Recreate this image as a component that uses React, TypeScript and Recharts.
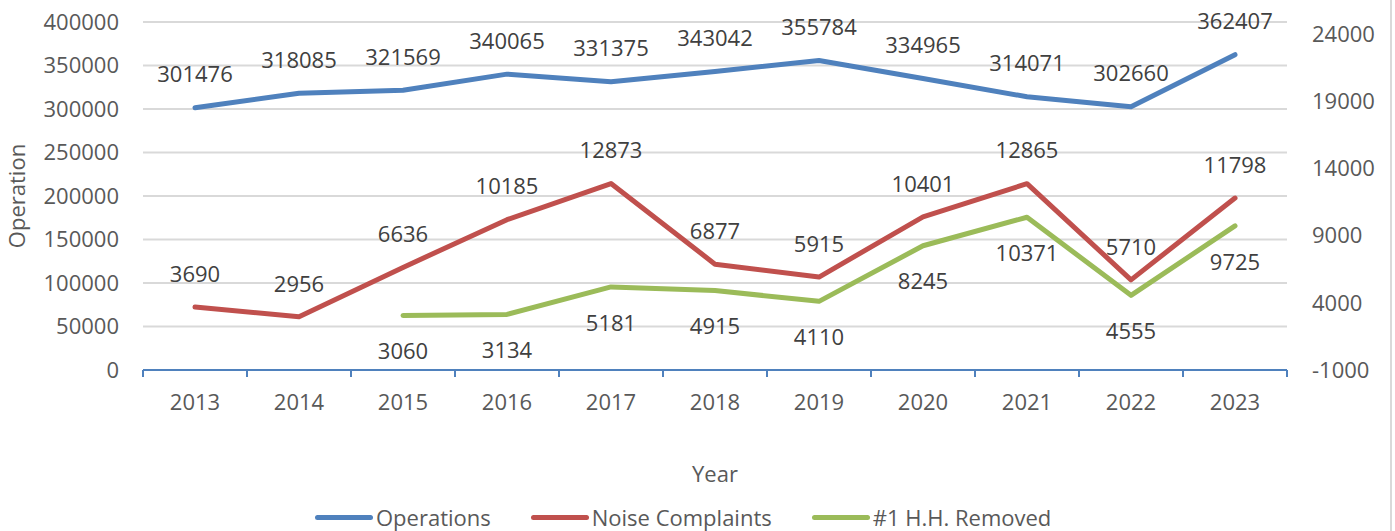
import React from 'react';
import { LineChart, Line, XAxis, YAxis, CartesianGrid, LabelList } from 'recharts';

const years = ['2013', '2014', '2015', '2016', '2017', '2018', '2019', '2020', '2021', '2022', '2023'];
const operations = [301476, 318085, 321569, 340065, 331375, 343042, 355784, 334965, 314071, 302660, 362407];
const noiseComplaints = [3690, 2956, 6636, 10185, 12873, 6877, 5915, 10401, 12865, 5710, 11798];
const hhRemoved: (number | null)[] = [null, null, 3060, 3134, 5181, 4915, 4110, 8245, 10371, 4555, 9725];

const leftTicks = [0, 50000, 100000, 150000, 200000, 250000, 300000, 350000, 400000];
const rightTicks = [-1000, 4000, 9000, 14000, 19000, 24000];

const BLUE = '#4F81BD';
const RED = '#C0504D';
const GREEN = '#9BBB59';
const TICK_COLOR = '#595959';
const LABEL_COLOR = '#404040';
const FONT = '"Open Sans", sans-serif';
const HALF_BAND = 52;

const chartData = years.map((year, i) => ({
    year,
    operations: operations[i],
    noise: noiseComplaints[i],
    hh: hhRemoved[i],
}));

const legendItems = [
    { name: 'Operations', color: BLUE },
    { name: 'Noise Complaints', color: RED },
    { name: '#1 H.H. Removed', color: GREEN },
];

const YearTick = (props: any) => {
    const { x, y, payload, index } = props;
    const last = index === years.length - 1;
    return (
        <g>
            <line x1={x - HALF_BAND} x2={x - HALF_BAND} y1={y} y2={y + 7} stroke={BLUE} strokeWidth={2} />
            {last && <line x1={x + HALF_BAND} x2={x + HALF_BAND} y1={y} y2={y + 7} stroke={BLUE} strokeWidth={2} />}
            <text x={x} y={y + 32} dy="0.35em" textAnchor="middle" fill={TICK_COLOR} fontSize={22} fontFamily={FONT}>
                {payload.value}
            </text>
        </g>
    );
};

const makeLabel = (offset: number) => (props: any) => {
    const { x, y, value } = props;
    if (value === null || value === undefined) return null;
    return (
        <text x={x} y={y + offset} dy="0.35em" textAnchor="middle" fill={LABEL_COLOR} fontSize={22} fontFamily={FONT}>
            {value}
        </text>
    );
};

const OperationLabel = (props: any) => {
    const vb = props.viewBox || {};
    const cx = (vb.x || 0) + 17;
    const cy = (vb.y || 0) + (vb.height || 0) / 2;
    return (
        <text x={cx} y={cy} dy="0.35em" textAnchor="middle" fill={TICK_COLOR} fontSize={22} fontFamily={FONT}
            transform={`rotate(-90, ${cx}, ${cy})`}>
            Operation
        </text>
    );
};

const App: React.FC = () => {
    return (
        <div style={{ position: 'absolute', left: 0, top: 0, width: 1395, height: 531, background: '#ffffff', fontFamily: FONT }}>
            <LineChart width={1395} height={531} data={chartData} margin={{ top: 22, right: 0, left: 0, bottom: 41 }}>
                <CartesianGrid vertical={false} stroke="#d9d9d9" strokeWidth={2} yAxisId="left" />
                <XAxis
                    dataKey="year"
                    height={120}
                    padding={{ left: HALF_BAND, right: HALF_BAND }}
                    tickSize={0}
                    tickMargin={0}
                    tickLine={false}
                    axisLine={{ stroke: BLUE, strokeWidth: 2 }}
                    tick={<YearTick />}
                    interval={0}
                    label={{ value: 'Year', position: 'insideBottom', offset: 8, fill: TICK_COLOR, fontSize: 22, fontFamily: FONT }}
                />
                <YAxis
                    yAxisId="left"
                    width={143}
                    domain={[0, 400000]}
                    ticks={leftTicks}
                    tickSize={0}
                    tickMargin={24}
                    tickLine={false}
                    axisLine={false}
                    interval={0}
                    tick={{ fill: TICK_COLOR, fontSize: 22, fontFamily: FONT }}
                    label={<OperationLabel />}
                />
                <YAxis
                    yAxisId="right"
                    orientation="right"
                    width={108}
                    domain={[-1000, 24900]}
                    ticks={rightTicks}
                    tickSize={0}
                    tickMargin={25}
                    tickLine={false}
                    axisLine={false}
                    interval={0}
                    tick={{ fill: TICK_COLOR, fontSize: 22, fontFamily: FONT, textAnchor: 'start' }}
                />
                <Line yAxisId="left" type="linear" dataKey="operations" stroke={BLUE} strokeWidth={5} strokeLinecap="round" strokeLinejoin="round" dot={false} isAnimationActive={false}>
                    <LabelList dataKey="operations" content={makeLabel(-33)} />
                </Line>
                <Line yAxisId="right" type="linear" dataKey="noise" stroke={RED} strokeWidth={5} strokeLinecap="round" strokeLinejoin="round" dot={false} isAnimationActive={false}>
                    <LabelList dataKey="noise" content={makeLabel(-33)} />
                </Line>
                <Line yAxisId="right" type="linear" dataKey="hh" stroke={GREEN} strokeWidth={5} strokeLinecap="round" strokeLinejoin="round" dot={false} isAnimationActive={false}>
                    <LabelList dataKey="hh" content={makeLabel(36)} />
                </Line>
            </LineChart>
            <div style={{ position: 'absolute', left: 315, top: 503, display: 'flex', alignItems: 'center', height: 28 }}>
                {legendItems.map((item, i) => (
                    <div key={item.name} style={{ display: 'flex', alignItems: 'center', marginLeft: i === 0 ? 0 : 40 }}>
                        <div style={{ width: 58, height: 5, borderRadius: 3, background: item.color }} />
                        <span style={{ fontSize: 22, color: TICK_COLOR, marginLeft: 3, lineHeight: '28px' }}>{item.name}</span>
                    </div>
                ))}
            </div>
            <div style={{ position: 'absolute', left: 1390, top: 0, width: 2, height: 531, background: '#d9d9d9' }} />
        </div>
    );
};

export default App;
